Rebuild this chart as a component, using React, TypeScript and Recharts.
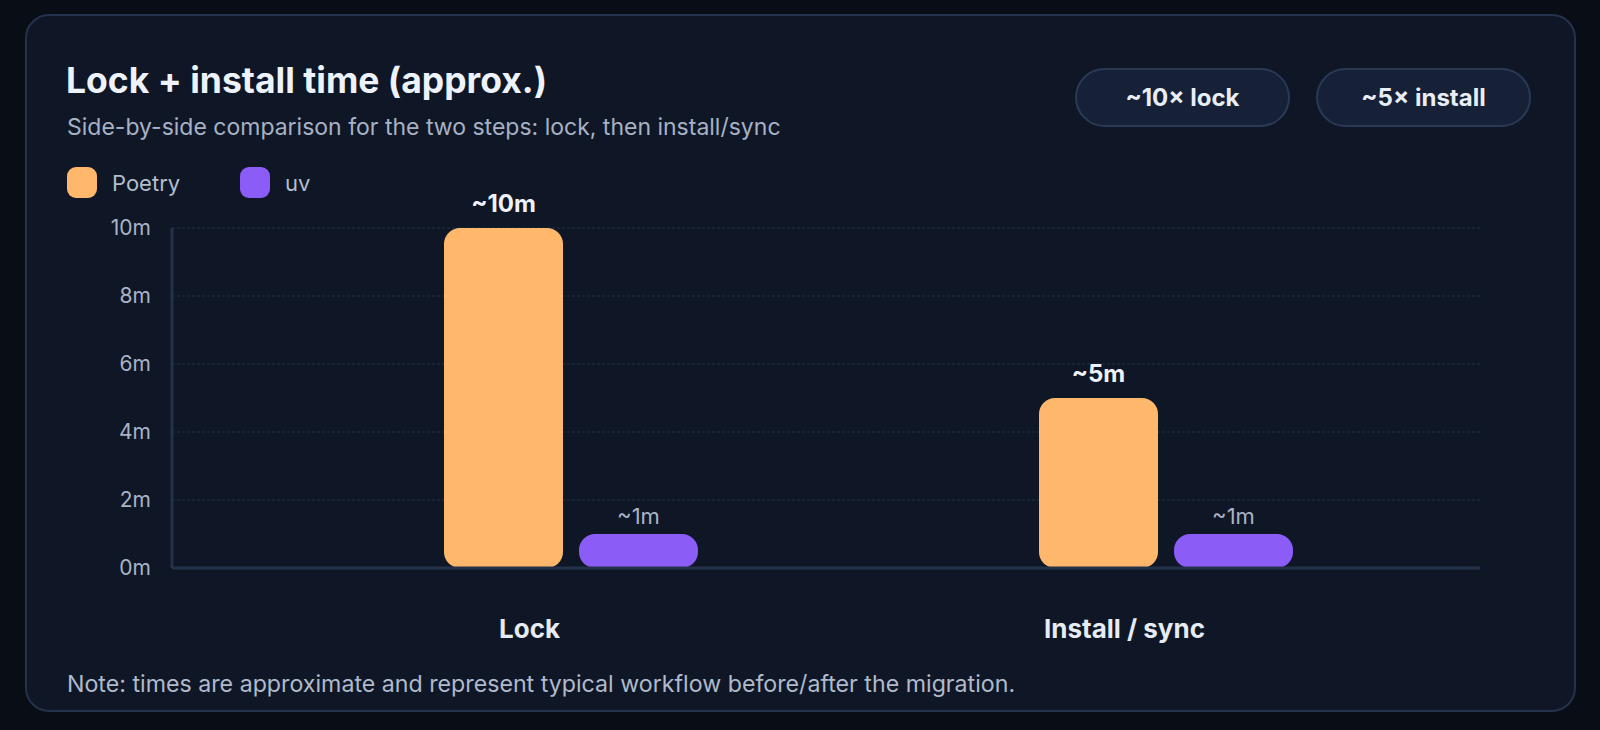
import React from 'react';
import { Bar, BarChart, CartesianGrid, LabelList, XAxis, YAxis } from 'recharts';

const categories = ['Lock', 'Install / sync'];
const poetryMinutes = [10, 5];
const uvMinutes = [1, 1];
const yTicks = [0, 2, 4, 6, 8, 10];
const badges = ['~10× lock', '~5× install'];
const seriesNames = ['Poetry', 'uv'];

const data = categories.map((step, i) => ({
  step,
  poetry: poetryMinutes[i],
  uv: uvMinutes[i],
}));

const FONT = 'Inter, "Noto Sans", sans-serif';
const POETRY = '#ffb86b';
const UV = '#8b5cf6';

const StepTick = (props: any) => {
  const { x, y, payload } = props;
  return (
    <text
      x={x - 41}
      y={y}
      dy={62}
      textAnchor='middle'
      fill='#e6ebf4'
      fontSize={26}
      fontWeight={700}
      fontFamily={FONT}
    >
      {payload.value}
    </text>
  );
};

const App: React.FC = () => {
  return (
    <div
      style={{
        position: 'fixed',
        left: 0,
        top: 0,
        width: 1600,
        height: 730,
        background: '#090d15',
        fontFamily: FONT,
        overflow: 'hidden',
      }}
    >
      <div
        style={{
          position: 'absolute',
          left: 25,
          top: 14,
          width: 1551,
          height: 698,
          boxSizing: 'border-box',
          background: '#0f1727',
          border: '2px solid #24324b',
          borderRadius: 24,
        }}
      />
      <div
        style={{
          position: 'absolute',
          left: 66,
          top: 63,
          fontSize: 35.5,
          lineHeight: 1,
          fontWeight: 700,
          color: '#eef2fa',
          whiteSpace: 'nowrap',
        }}
      >
        Lock + install time (approx.)
      </div>
      <div
        style={{
          position: 'absolute',
          left: 67,
          top: 116,
          fontSize: 23,
          lineHeight: 1,
          color: '#a7b1c4',
          whiteSpace: 'nowrap',
        }}
      >
        Side-by-side comparison for the two steps: lock, then install/sync
      </div>

      {badges.map((b, i) => (
        <div
          key={b}
          style={{
            position: 'absolute',
            left: 1075 + i * 241,
            top: 68,
            width: 215,
            height: 59,
            boxSizing: 'border-box',
            borderRadius: 30,
            background: '#162137',
            border: '2px solid #2a3a55',
            color: '#e8edf6',
            fontSize: 24,
            fontWeight: 700,
            display: 'flex',
            alignItems: 'center',
            justifyContent: 'center',
            whiteSpace: 'nowrap',
          }}
        >
          {b}
        </div>
      ))}

      {seriesNames.map((name, i) => (
        <div
          key={name}
          style={{
            position: 'absolute',
            left: 67 + i * 173,
            top: 167,
            display: 'flex',
            alignItems: 'center',
          }}
        >
          <div
            style={{
              width: 30,
              height: 31,
              borderRadius: 9,
              background: i === 0 ? POETRY : UV,
            }}
          />
          <span
            style={{
              marginLeft: 15,
              fontSize: 22,
              lineHeight: 1,
              color: '#b4bdcc',
            }}
          >
            {name}
          </span>
        </div>
      ))}

      <div style={{ position: 'absolute', left: 0, top: 0 }}>
        <BarChart
          width={1600}
          height={730}
          data={data}
          barGap={16}
          margin={{ top: 228, right: 120, bottom: 102, left: 112 }}
        >
          <CartesianGrid vertical={false} stroke='#243146' strokeDasharray='3 2' />
          <XAxis
            dataKey='step'
            padding={{ left: 101, right: 17 }}
            tickLine={false}
            axisLine={{ stroke: '#243249', strokeWidth: 3 }}
            tick={<StepTick />}
            height={60}
            interval={0}
          />
          <YAxis
            domain={[0, 10]}
            ticks={yTicks}
            width={60}
            tickLine={false}
            tickMargin={15}
            axisLine={{ stroke: '#243249', strokeWidth: 3 }}
            tickFormatter={(v: number) => `${v}m`}
            tick={{ fill: '#a9b3c5', fontSize: 21, fontFamily: FONT }}
          />
          <Bar
            dataKey='poetry'
            name='Poetry'
            fill={POETRY}
            barSize={119}
            radius={[16, 16, 16, 16]}
            isAnimationActive={false}
          >
            <LabelList
              dataKey='poetry'
              position='top'
              offset={16}
              formatter={(v: any) => `~${v}m`}
              fill='#eef2f8'
              fontSize={24}
              fontWeight={700}
              fontFamily={FONT}
            />
          </Bar>
          <Bar
            dataKey='uv'
            name='uv'
            fill={UV}
            barSize={119}
            radius={[16, 16, 16, 16]}
            isAnimationActive={false}
          >
            <LabelList
              dataKey='uv'
              position='top'
              offset={10}
              formatter={(v: any) => `~${v}m`}
              fill='#a9b3c5'
              fontSize={22}
              fontFamily={FONT}
            />
          </Bar>
        </BarChart>
      </div>

      <div
        style={{
          position: 'absolute',
          left: 67,
          top: 673,
          fontSize: 23.2,
          lineHeight: 1,
          color: '#b0bacb',
          whiteSpace: 'nowrap',
        }}
      >
        Note: times are approximate and represent typical workflow before/after the migration.
      </div>
    </div>
  );
};

export default App;
